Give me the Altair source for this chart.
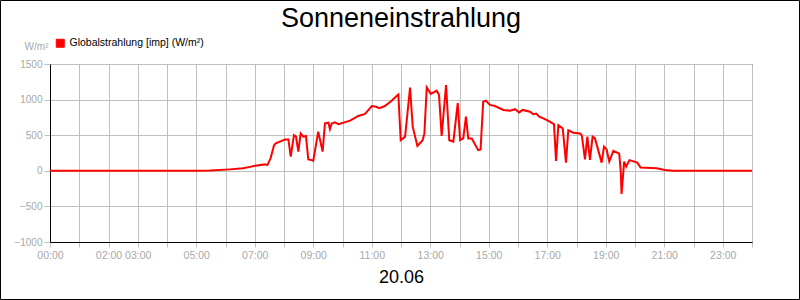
import altair as alt
import pandas as pd

title_text = "Sonneneinstrahlung"
series_name = "Globalstrahlung [imp] (W/m²)"
x_title = "20.06"
y_title = "W/m²"

hours = [0.0, 5.0, 5.47, 6.15, 6.6, 6.84, 7.01, 7.35, 7.43, 7.54, 7.66, 7.72, 7.86, 8.03, 8.15,
         8.23, 8.34, 8.41, 8.49, 8.57, 8.66, 8.75, 8.83, 8.95, 9.0, 9.17, 9.32, 9.4, 9.52,
         9.57, 9.63, 9.74, 9.86, 10.26, 10.54, 10.77, 10.94, 11.0, 11.15, 11.26, 11.45,
         11.68, 11.85, 11.91, 11.99, 12.14, 12.31, 12.4, 12.56, 12.74, 12.8, 12.88, 13.02,
         13.22, 13.3, 13.39, 13.54, 13.65, 13.79, 13.94, 14.02, 14.13, 14.22, 14.3, 14.42,
         14.64, 14.72, 14.81, 14.9, 15.04, 15.21, 15.5, 15.73, 15.9, 16.04, 16.16, 16.41,
         16.52, 16.62, 16.73, 16.92, 17.09, 17.18, 17.23, 17.3, 17.38, 17.53, 17.64, 17.72,
         17.89, 18.12, 18.18, 18.29, 18.37, 18.46, 18.55, 18.63, 18.75, 18.86, 18.94, 19.03,
         19.12, 19.26, 19.46, 19.51, 19.54, 19.63, 19.7, 19.81, 20.08, 20.19, 20.74, 21.02,
         21.3, 24.0]
values = [0, 0, 3, 20, 35, 55, 70, 90, 80, 175, 360, 385, 410, 440, 440,
          200, 500, 480, 270, 525, 480, 490, 160, 150, 140, 550, 270, 665, 675,
          585, 665, 680, 655, 705, 770, 800, 880, 910, 900, 880, 910,
          985, 1050, 1070, 430, 480, 1170, 620, 350, 430, 525, 1170, 1080,
          1125, 1065, 490, 1205, 430, 410, 950, 430, 455, 760, 455, 455,
          290, 300, 970, 985, 925, 910, 855, 845, 865, 820, 855, 830,
          795, 805, 760, 725, 690, 665, 655, 140, 640, 595, 115, 570,
          535, 525, 500, 160, 480, 155, 480, 455, 280, 115, 340, 300,
          130, 280, 240, 10, -325, 130, 60, 150, 115, 45, 35, 10,
          0, 0]

x_grid_hours = list(range(0, 25))
x_label_hours = [0, 2, 3, 5, 7, 9, 11, 13, 15, 17, 19, 21, 23]
y_ticks = [-1000, -500, 0, 500, 1000, 1500]

df = pd.DataFrame({"h": hours, "v": values, "s": [series_name] * len(hours)})

label_expr = (
    f"indexof({x_label_hours}, datum.value) >= 0 ? "
    "(datum.value < 10 ? '0' : '') + datum.value + ':00' : ''"
)

GRID = "#c0c0c0"
LBL = "#a8a8a8"
FONT = "Liberation Sans"

line = alt.Chart(df).mark_line(strokeWidth=2, clip=True).encode(
    x=alt.X("h:Q", scale=alt.Scale(domain=[0, 24], nice=False, zero=False),
            axis=alt.Axis(values=x_grid_hours, labelExpr=label_expr, title=x_title,
                          titleFontSize=18, titleColor="black", titleFontWeight="normal",
                          titlePadding=8, labelColor=LBL, labelFontSize=10.5,
                          labelPadding=3, tickColor=GRID, tickSize=5,
                          domainColor="black", gridColor=GRID, labelOverlap=False,
                          labelFlush=False)),
    y=alt.Y("v:Q", scale=alt.Scale(domain=[-1000, 1500], nice=False),
            axis=alt.Axis(values=y_ticks, format="d", title=y_title, titleAngle=0,
                          titleAlign="right", titleBaseline="middle",
                          titleX=-2, titleY=-18, titleColor=LBL, titleFontSize=10,
                          titleFontWeight="normal",
                          labelColor=LBL, labelFontSize=10, labelPadding=2,
                          tickColor=GRID, tickSize=6, domainColor="black",
                          gridColor=GRID)),
    color=alt.Color("s:N", scale=alt.Scale(domain=[series_name], range=["#ff0000"]),
                    legend=alt.Legend(orient="none", legendX=5, legendY=-26, title=None,
                                      symbolType="square", symbolSize=64,
                                      symbolFillColor="#ff0000",
                                      symbolStrokeColor="#600000",
                                      symbolStrokeWidth=1,
                                      labelFontSize=10.5, labelColor="black",
                                      labelFont=FONT, labelOffset=4)),
)

border = alt.Chart(alt.Data(values=[{}])).mark_rect(
    fill=None, filled=False, stroke="black", strokeWidth=1
).encode(
    x=alt.value(-49.5), x2=alt.value(749.5), y=alt.value(-63.5), y2=alt.value(235.5)
)

chart = alt.layer(line, border).properties(
    width=702, height=178,
    title=alt.TitleParams(title_text, fontSize=27, font=FONT, fontWeight="normal",
                          color="black", anchor="middle", frame="group", offset=-54,
                          baseline="alphabetic"),
    autosize=alt.AutoSizeParams(type="none"),
    padding={"left": 50, "top": 64, "right": 48, "bottom": 58},
).configure(font=FONT).configure_view(stroke="black", strokeWidth=1)

chart.save("out.html", embed_options={"renderer": "svg", "actions": False})
